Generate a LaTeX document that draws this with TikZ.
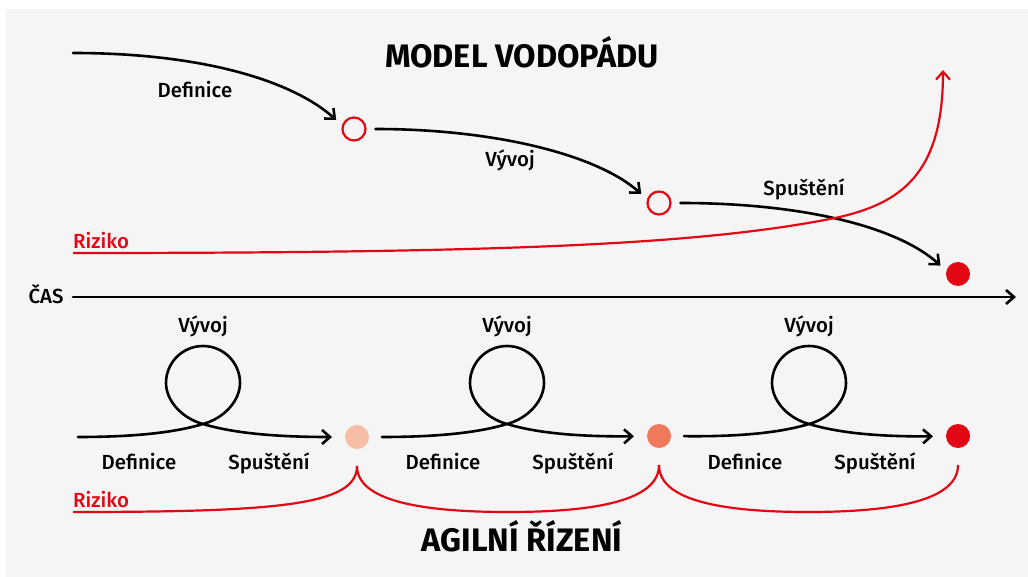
\documentclass[tikz,border=0pt]{standalone}
\usepackage{fontspec}
\setmainfont{Fira Sans}[UprightFont=* Medium, BoldFont=* Bold]
\usetikzlibrary{arrows.meta}

\definecolor{bg}{HTML}{F5F5F5}
\definecolor{riskred}{HTML}{E30613}
\definecolor{peach}{HTML}{F5BEA5}
\definecolor{salmon}{HTML}{EE7A5B}

% one agile iteration: definition, development loop, release
% #1 start, #2 target dot, #3 loop centre x, #4 extra options
\newcommand\agileseg[4]{%
  \draw[flow,shorten >=13pt,#4] (#1)
    .. controls ({#3-55},437) and ({#3-20},430) .. (#3,424)
    .. controls ({#3+22},418) and ({#3+37},400) .. ({#3+37},383)
    arc[start angle=0,end angle=-180,radius=37]
    .. controls ({#3-37},400) and ({#3-22},418) .. (#3,424)
    .. controls ({#3+20},430) and ({#3+55},437) .. (#2);}

\begin{document}
\begin{tikzpicture}[x=1pt,y=-1pt,
  flow/.style={line width=2.6pt,line cap=round,
    -{Straight Barb[length=8pt,width=14pt]}},
  riskflow/.style={draw=riskred,line width=2.2pt,
    -{Straight Barb[length=8pt,width=14pt]}},
  riskline/.style={draw=riskred,line width=2.2pt},
  lbl/.style={font=\fontsize{20.4}{24}\selectfont,anchor=base,inner sep=0pt},
  risklbl/.style={lbl,text=riskred,anchor=base west},
  headline/.style={font=\fontsize{32.5}{36}\selectfont\bfseries,anchor=base,inner sep=0pt},
  ring/.style={circle,draw=riskred,line width=2.2pt,minimum size=23pt,inner sep=0pt,outer sep=0pt},
  dot/.style={circle,minimum size=24pt,inner sep=0pt,outer sep=0pt},
]
\useasboundingbox (0,0) rectangle (1028,577);
\fill[white] (0,0) rectangle (1028,577);
\fill[bg] (6,9) rectangle (1028,577);

% ---------- waterfall ----------
\node[headline] (t1) at (522,68) {MODEL VODOPÁDU};

\node[ring] (w1) at (354,129) {};
\node[ring] (w2) at (659,203) {};
\node[dot,fill=riskred] (w3) at (958,274) {};

\coordinate (d0) at (73,53);
\draw[flow,shorten >=9pt] (d0) .. controls +(130,0) and +(-50,-45) .. (w1.165);
\draw[flow,shorten <=10pt,shorten >=9pt] (w1.east) .. controls +(130,0) and +(-50,-45) .. (w2.165);
\draw[flow,shorten <=10pt,shorten >=8pt] (w2.east) .. controls +(130,0) and +(-50,-45) .. (w3.165);

\node[lbl] (l1) at (195,98) {Definice};
\node[lbl] (l2) at (510,167) {Vývoj};
\node[lbl] (l3) at (804,196) {Spuštění};

% rising risk
\node[risklbl] (rk1) at (73,249) {Riziko};
\coordinate (r0) at (73,253);
\coordinate (r1) at (943,70);
\draw[riskflow] (r0) .. controls (500,253) and (700,245) .. (835,218)
  .. controls (900,204) and (943,175) .. (r1);

% ---------- time axis ----------
\node[lbl] (cas) at (46,304) {ČAS};
\coordinate (a0) at (73,297);
\coordinate (a1) at (1016,297);
\draw[flow] (a0) -- (a1);

% ---------- agile ----------
\node[dot,fill=peach]   (g1) at (357,437) {};
\node[dot,fill=salmon]  (g2) at (659,436) {};
\node[dot,fill=riskred] (g3) at (958,436) {};

\coordinate (s0) at (78,437);
\agileseg{s0}{g1}{203}{}
\agileseg{g1.east}{g2}{507}{shorten <=13pt}
\agileseg{g2.east}{g3}{809}{shorten <=13pt}

\foreach \cx/\n in {203/1,507/2,809/3}{
  \node[lbl] (v\n) at (\cx,333) {Vývoj};
  \node[lbl] (d\n) at ({\cx-64},469) {Definice};
  \node[lbl] (s\n) at ({\cx+66},469) {Spuštění};
}

% risk stays bounded per iteration
\node[risklbl] (rk2) at (73,507) {Riziko};
\coordinate (q0) at (73,512);
\draw[riskline,shorten >=17pt] (q0) .. controls (280,512) and (357,505) .. (g1);
\draw[riskline,shorten <=17pt,shorten >=17pt] (g1)
  .. controls (357,500) and (418,512) .. (508,512)
  .. controls (598,512) and (659,500) .. (g2);
\draw[riskline,shorten <=17pt,shorten >=17pt] (g2)
  .. controls (659,500) and (720,512) .. (808,512)
  .. controls (896,512) and (958,500) .. (g3);

\node[headline] (t2) at (522,551) {AGILNÍ ŘÍZENÍ};
\end{tikzpicture}
\end{document}
